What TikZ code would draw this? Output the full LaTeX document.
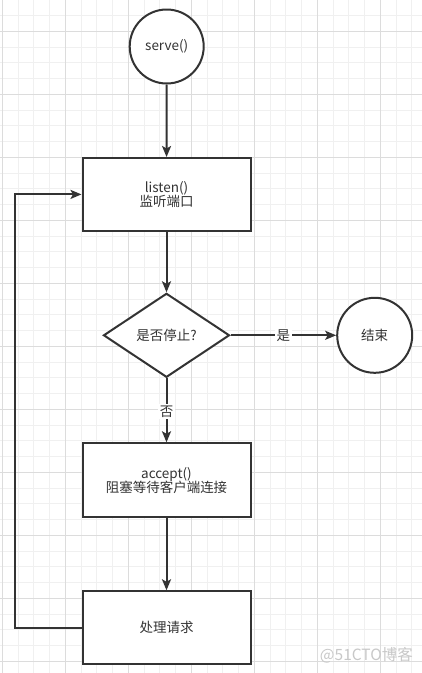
\documentclass[tikz,border=0pt]{standalone}
\usepackage{fontspec}
\setmainfont{Noto Sans CJK SC}
\usetikzlibrary{shapes.geometric,arrows.meta}
\definecolor{ink}{HTML}{333333}
\definecolor{gridminor}{HTML}{F0F0F0}
\definecolor{gridmajor}{HTML}{DCDCDC}
\definecolor{wmark}{HTML}{C8C8C8}
\tikzset{
  box/.style={draw=ink, line width=2pt, fill=white, rectangle, minimum width=168pt, minimum height=73pt, inner sep=0pt, align=center, text=ink, font=\fontsize{13.5}{16}\selectfont},
  roundnode/.style={draw=ink, line width=2pt, fill=white, circle, minimum size=74pt, inner sep=0pt, text=ink, font=\fontsize{13.5}{16}\selectfont},
  decision/.style={draw=ink, line width=2pt, fill=white, diamond, minimum width=126pt, minimum height=84pt, inner sep=0pt, text=ink, font=\fontsize{13.5}{16}\selectfont},
  flow/.style={draw=ink, line width=2pt, -{Stealth[length=11pt,width=9pt,inset=2.5pt]}},
  edgelabel/.style={fill=white, inner sep=1.5pt, text=ink, font=\fontsize{13.5}{16}\selectfont},
}
\begin{document}
\begin{tikzpicture}[x=1pt,y=-1pt]
\useasboundingbox (0,0) rectangle (422,673);
\fill[white] (0,0) rectangle (422,673);
% grid
\foreach \i in {0,...,26} {
  \pgfmathsetmacro{\gx}{2.3+15.75*\i}
  \draw[gridminor, line width=0.8pt] (\gx,0) -- (\gx,673);
}
\foreach \i in {-1,...,41} {
  \pgfmathsetmacro{\gy}{-0.2+15.75*\i}
  \draw[gridminor, line width=0.8pt] (0,\gy) -- (422,\gy);
}
\foreach \i in {0,...,6} {
  \pgfmathsetmacro{\gx}{2.3+63*\i}
  \draw[gridmajor, line width=0.8pt] (\gx,0) -- (\gx,673);
}
\foreach \i in {0,...,10} {
  \pgfmathsetmacro{\gy}{31.3+63*\i}
  \draw[gridmajor, line width=0.8pt] (0,\gy) -- (422,\gy);
}
% nodes
\node[roundnode] (serve) at (166.7,46.5) {serve()};
\node[box] (listen) at (166.5,194.5) {listen()\\[-2pt]监听端口};
\node[decision] (stop) at (166.5,335.3) {是否停止?};
\node[roundnode, minimum size=75pt] (end) at (374.7,335.3) {结束};
\node[box, minimum height=74pt] (accept) at (166.5,480.3) {accept()\\[-2pt]阻塞等待客户端连接};
\node[box] (proc) at (166.5,627.8) {处理请求};
\coordinate (lb) at (15.3,627.8);
\coordinate (lt) at (15.3,194.4);
% connectors
\draw[flow] (serve) -- (listen);
\draw[flow] (listen) -- (stop);
\draw[flow] (stop.east) -- node[edgelabel] {是} (end.west);
\draw[flow] (stop.south) -- node[edgelabel, pos=0.52] {否} (accept.north);
\draw[flow] (accept) -- (proc);
\draw[flow] (proc.west) -- (lb) -- (lt) -- (listen.west |- lt);
% watermark
\node[text=wmark, font=\fontsize{15.5}{18}\selectfont, inner sep=0pt, anchor=east] (wm) at (413,655) {@51CTO博客};
\end{tikzpicture}
\end{document}
